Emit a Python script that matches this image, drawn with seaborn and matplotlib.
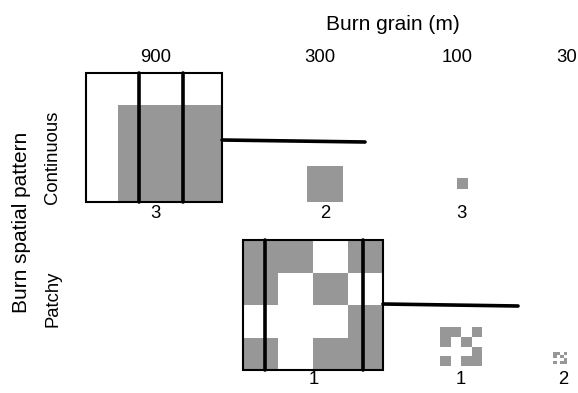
import numpy as np
import pandas as pd
import matplotlib
matplotlib.use("Agg")
import matplotlib.pyplot as plt
from matplotlib.patches import Rectangle
import seaborn as sns

# ---- data ----
grain_labels = ["900", "300", "100", "30"]
pattern_labels = ["Continuous", "Patchy"]
continuous_counts = ["3", "2", "3"]      # grains 900, 300, 100
patchy_counts = ["1", "1", "2"]          # grains 300, 100, 30
patch_grid = [[1, 1, 0, 1],
              [1, 0, 1, 0],
              [0, 0, 0, 1],
              [1, 0, 1, 1]]

sns.set_theme(style="white")
plt.rcParams['font.family'] = ['Liberation Sans', 'DejaVu Sans']
plt.rcParams['text.color'] = 'black'

GRAY = "#979797"
W, H = 578, 393
fig = plt.figure(figsize=(W / 100, H / 100), dpi=100)
ax = fig.add_axes([0, 0, 1, 1])
ax.set_xlim(0, W)
ax.set_ylim(H, 0)
ax.axis("off")

fs = 13.3
fs_title = 15
# titles
ax.text(393, 24, "Burn grain (m)", ha="center", va="center", fontsize=fs_title, color="black")
ax.text(22, 222, "Burn spatial pattern", ha="center", va="center", rotation=90,
        fontsize=fs_title, color="black")
ax.text(53, 157, pattern_labels[0], ha="center", va="center", rotation=90, fontsize=fs, color="black")
ax.text(53, 299, pattern_labels[1], ha="center", va="center", rotation=90, fontsize=fs, color="black")

tick_x = [156, 320, 457, 567]
for x, lab in zip(tick_x, grain_labels):
    ax.text(x, 58, lab, ha="center", va="center", fontsize=fs, color="black")


def vline(x, y0, y1):
    sns.lineplot(x=[x, x], y=[y0, y1], color="black", lw=2.6, ax=ax,
                 estimator=None, sort=False, zorder=5)


def seg(x0, y0, x1, y1):
    sns.lineplot(x=[x0, x1], y=[y0, y1], color="black", lw=2.6, ax=ax,
                 estimator=None, sort=False, zorder=5)


# ---- continuous row ----
ax.add_patch(Rectangle((118, 105), 103, 97, facecolor=GRAY, edgecolor="none"))
ax.add_patch(Rectangle((86, 73), 136, 129, facecolor="none", edgecolor="black", lw=1.5, zorder=4))
for x in [139, 182.5]:
    vline(x, 73, 202)
seg(222, 140, 365, 142)
ax.add_patch(Rectangle((307, 166), 36, 36, facecolor=GRAY, edgecolor="none"))
ax.add_patch(Rectangle((457, 178), 11, 11, facecolor=GRAY, edgecolor="none"))

cont_x = [155, 325, 461]
for x, lab in zip(cont_x, continuous_counts):
    ax.text(x, 214, lab, ha="center", va="center", fontsize=fs, color="black")


# ---- patchy row ----
def draw_grid(x0, y0, w, h):
    grid = np.array(patch_grid)
    nr, nc = grid.shape
    cw, ch = w / nc, h / nr
    for r in range(nr):
        for c in range(nc):
            if grid[r, c]:
                ax.add_patch(Rectangle((x0 + c * cw, y0 + r * ch), cw, ch,
                                       facecolor=GRAY, edgecolor="none"))


draw_grid(243, 240, 140, 130)
ax.add_patch(Rectangle((243, 240), 140, 130, facecolor="none", edgecolor="black", lw=1.5, zorder=4))
for x in [265, 363]:
    vline(x, 240, 370)
seg(383, 304, 518, 306)
draw_grid(440, 327, 42, 39)
draw_grid(553, 352, 14, 12)

pat_x = [314, 461, 563]
for x, lab in zip(pat_x, patchy_counts):
    ax.text(x, 380, lab, ha="center", va="center", fontsize=fs, color="black")

if ax.get_legend() is not None:
    ax.get_legend().remove()
ax.set_xlim(0, W)
ax.set_ylim(H, 0)
fig.savefig("out.png", dpi=100)
